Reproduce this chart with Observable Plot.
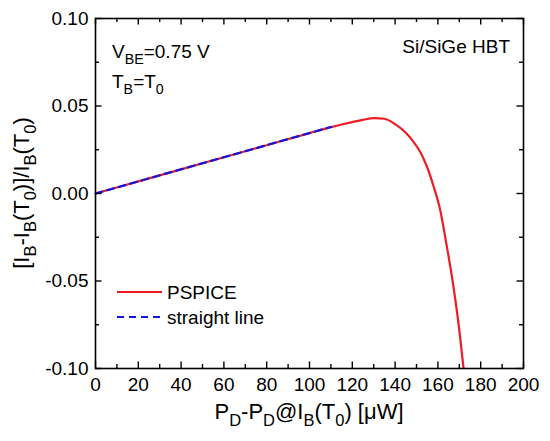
<!DOCTYPE html>
<html><head><meta charset="utf-8">
<script src="https://cdn.jsdelivr.net/npm/d3@7"></script>
<script src="https://cdn.jsdelivr.net/npm/@observablehq/plot@0.6"></script>
<style>body{margin:0;background:#fff} svg{font-family:"Liberation Sans",Arial,sans-serif}</style>
</head><body><div id="chart"></div>
<script>
// PSPICE simulated curve
const pspiceX = [0, 20, 40, 60, 80, 100, 110, 115, 120, 125, 130, 135, 140, 145, 148, 152, 155, 158, 161, 164, 167, 170, 172];
const pspiceY = [0, 0.0069, 0.0138, 0.0207, 0.0276, 0.0345, 0.0379, 0.0394, 0.0408, 0.0421, 0.0431, 0.0427, 0.0396, 0.0347, 0.0305, 0.0232, 0.015, 0.004, -0.009, -0.029, -0.051, -0.078, -0.100];
// straight-line fit
const lineX = [0, 110];
const lineY = [0, 0.038];
// ticks
const xMajor = [0, 20, 40, 60, 80, 100, 120, 140, 160, 180, 200];
const xMinor = [10, 30, 50, 70, 90, 110, 130, 150, 170, 190];
const yMajor = [-0.1, -0.05, 0, 0.05, 0.1];
const yMinor = [-0.075, -0.025, 0.025, 0.075];
const seriesNames = ["PSPICE", "straight line"];
const seriesColors = ["#ee1c24", "#1414dc"];

const pspice = pspiceX.map((x, i) => ({x, y: pspiceY[i]}));
const straight = lineX.map((x, i) => ({x, y: lineY[i]}));

const W = 550, H = 441, mL = 95, mR = 27, mT = 18, mB = 73;
const PW = W - mL - mR, PH = H - mT - mB;
const MAJ = 6.5, MIN = 4, TW = 1.4;

const svg = Plot.plot({
  width: W, height: H,
  marginLeft: mL, marginRight: mR, marginTop: mT, marginBottom: mB,
  style: {fontFamily: "Liberation Sans, Arial, sans-serif", background: "white", color: "black"},
  x: {domain: [0, 200]},
  y: {domain: [-0.1, 0.1]},
  marks: [
    Plot.line(pspice, {x: "x", y: "y", stroke: seriesColors[0], strokeWidth: 2.2, curve: "monotone-x", clip: true}),
    Plot.line(straight, {x: "x", y: "y", stroke: seriesColors[1], strokeWidth: 2.2, strokeDasharray: "7,5"}),
    // inward ticks on all four sides
    Plot.tickX(xMajor, {x: d => d, insetTop: PH - MAJ, strokeWidth: TW}),
    Plot.tickX(xMinor, {x: d => d, insetTop: PH - MIN, strokeWidth: TW}),
    Plot.tickX(xMajor, {x: d => d, insetBottom: PH - MAJ, strokeWidth: TW}),
    Plot.tickX(xMinor, {x: d => d, insetBottom: PH - MIN, strokeWidth: TW}),
    Plot.tickY(yMajor, {y: d => d, insetRight: PW - MAJ, strokeWidth: TW}),
    Plot.tickY(yMinor, {y: d => d, insetRight: PW - MIN, strokeWidth: TW}),
    Plot.tickY(yMajor, {y: d => d, insetLeft: PW - MAJ, strokeWidth: TW}),
    Plot.tickY(yMinor, {y: d => d, insetLeft: PW - MIN, strokeWidth: TW}),
    // tick labels
    Plot.axisX(xMajor, {anchor: "bottom", tickSize: 0, tickPadding: 9, fontSize: 19, tickFormat: d => String(d), label: null}),
    Plot.axisY(yMajor, {anchor: "left", tickSize: 0, tickPadding: 7, fontSize: 19, tickFormat: d => d.toFixed(2), label: null}),
    Plot.frame({stroke: "black", strokeWidth: 1.6})
  ]
});
document.getElementById("chart").appendChild(svg);

const root = d3.select(svg);
function rich(x, y, parts, size, anchor = "start", rotate = 0) {
  const t = root.append("text")
    .attr("font-size", size).attr("text-anchor", anchor).attr("fill", "black")
    .attr("transform", `translate(${x},${y}) rotate(${rotate})`);
  let shifted = false;
  const sh = size * 0.3, ss = size * 0.75;
  for (const [s, sub] of parts) {
    const ts = t.append("tspan").text(s);
    if (sub) {
      ts.attr("font-size", ss);
      if (!shifted) { ts.attr("dy", sh); shifted = true; }
    } else if (shifted) { ts.attr("dy", -sh); shifted = false; }
  }
  return t;
}

// axis titles
rich((mL + W - mR) / 2, 419, [["P"], ["D", 1], ["-P"], ["D", 1], ["@I"], ["B", 1], ["(T"], ["0", 1], [") [μW]"]], 22, "middle");
rich(29, (mT + H - mB) / 2, [["[I"], ["B", 1], ["-I"], ["B", 1], ["(T"], ["0", 1], [")]/I"], ["B", 1], ["(T"], ["0", 1], [")"]], 22, "middle", -90);

// annotations
rich(112, 58, [["V"], ["BE", 1], ["=0.75 V"]], 19);
rich(112, 88, [["T"], ["B", 1], ["=T"], ["0", 1]], 19);
rich(510, 53, [["Si/SiGe HBT"]], 19, "end");

// legend
const leg = [{y: 292, dash: null}, {y: 317, dash: "7,5"}];
leg.forEach((l, i) => {
  root.append("line").attr("x1", 117).attr("x2", 162).attr("y1", l.y).attr("y2", l.y)
    .attr("stroke", seriesColors[i]).attr("stroke-width", 2.2).attr("stroke-dasharray", l.dash);
  root.append("text").attr("x", 167).attr("y", l.y + 6.8).attr("font-size", 19)
    .attr("text-anchor", "start").attr("fill", "black").text(seriesNames[i]);
});
</script>
</body></html>
